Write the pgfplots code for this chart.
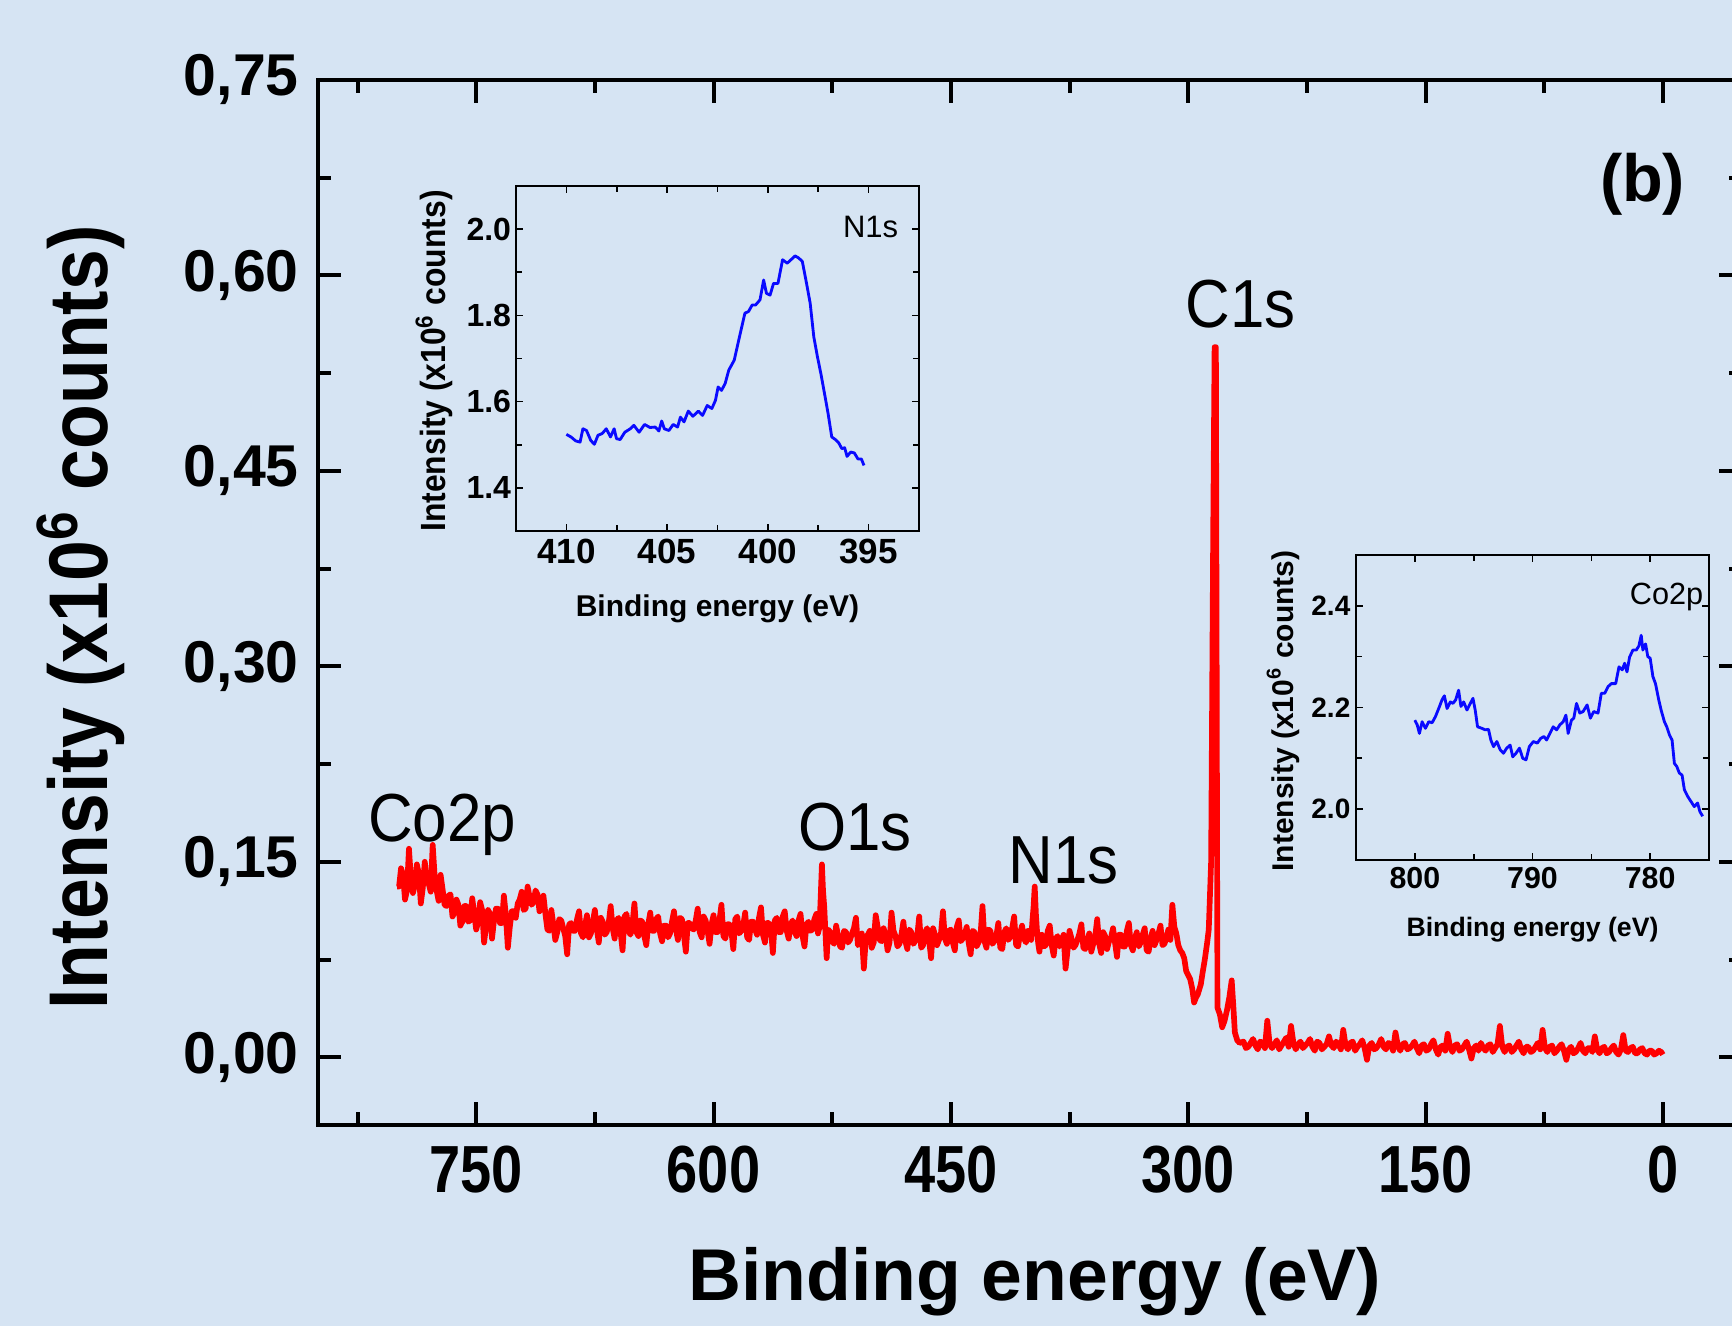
\documentclass[border=0pt]{standalone}
\usepackage{fontspec}
\setmainfont{Liberation Sans}
\newfontfamily\fxtick[FakeStretch=0.84]{Liberation Sans}
\newfontfamily\fcond[FakeStretch=0.91]{Liberation Sans}
\newfontfamily\fylab[FakeStretch=0.88]{Liberation Sans}
\usepackage{pgfplots}
\pgfplotsset{compat=1.18}

\definecolor{bgblue}{RGB}{214,228,243}
\definecolor{xpsred}{RGB}{255,0,0}
\definecolor{xpsblue}{RGB}{10,10,255}

\begin{document}
\begin{tikzpicture}
% page is 1732 x 1326 px at 0.3pt per px
\useasboundingbox (0pt,0pt) rectangle (519.6pt,397.8pt);
\fill[bgblue] (0pt,0pt) rectangle (519.6pt,397.8pt);
\begin{scope}
\clip (0pt,0pt) rectangle (519.6pt,397.8pt);

% ---------------- survey spectrum ----------------
\begin{axis}[
  at={(95.4pt,60.3pt)}, anchor=south west,
  scale only axis, width=427.2pt, height=313.5pt,
  x dir=reverse,
  xmin=-50, xmax=850, ymin=-0.052, ymax=0.75,
  xtick={0,150,300,450,600,750},
  minor xtick={75,225,375,525,675,825},
  ytick={0,0.15,0.3,0.45,0.6,0.75},
  minor ytick={0.075,0.225,0.375,0.525,0.675},
  tick align=inside,
  major tick length=6.9pt, minor tick length=3.9pt,
  tick style={black, line width=1.2pt},
  axis line style={line width=1.3pt},
  /pgf/number format/assume math mode=true,
  xticklabel style={font=\fxtick\fontsize{20}{22}\selectfont\bfseries,
    inner sep=0pt, anchor=north, yshift=-6pt},
  yticklabel style={font=\fontsize{17.7}{19}\selectfont\bfseries,
    inner sep=0pt, anchor=east, xshift=-5.6pt,
    /pgf/number format/.cd, fixed, fixed zerofill, precision=2, use comma},
  xlabel={Binding energy (eV)},
  xlabel style={at={(axis description cs:0.5035,-0.1675)}, anchor=base,
    inner sep=0pt, font=\fontsize{22}{24}\selectfont\bfseries},
  ylabel={Intensity (x10\textsuperscript{6} counts)},
  ylabel style={at={(axis description cs:-0.1475,0.4856)}, anchor=base,
    inner sep=0pt, font=\fylab\fontsize{25}{27}\selectfont\bfseries},
]
\addplot[xpsred, line width=1.7pt, line join=round] coordinates {
(800,0.131) (798.75,0.131) (797.5,0.145) (796.25,0.140) (795,0.121) (793.75,0.128)
(792.5,0.160) (791.25,0.137) (790,0.126) (788.75,0.132) (787.5,0.148) (786.25,0.141)
(785,0.118) (783.75,0.130) (782.5,0.150) (781.25,0.136) (780,0.133) (778.75,0.127)
(777.5,0.163) (776.25,0.139) (775,0.128) (773.75,0.120) (772.5,0.140) (771.25,0.129)
(770,0.117) (768.75,0.116) (767.5,0.124) (766.25,0.125) (765,0.108) (763.75,0.111)
(762.5,0.121) (761.25,0.117) (760,0.101) (758.75,0.104) (757.5,0.116) (756.25,0.116)
(755,0.104) (753.75,0.105) (752.5,0.122) (751.25,0.110) (750,0.098) (748.75,0.104)
(747.5,0.119) (746.25,0.113) (745,0.088) (743.75,0.101) (742.5,0.113) (741.25,0.110)
(740,0.091) (738.75,0.105) (737.5,0.114) (736.25,0.114) (735,0.103) (733.75,0.103)
(732.5,0.124) (731.25,0.109) (730,0.084) (728.75,0.100) (727.5,0.112) (726.25,0.112)
(725,0.107) (723.75,0.118) (722.5,0.121) (721.25,0.127) (720,0.113) (718.75,0.114)
(717.5,0.131) (716.25,0.123) (715,0.117) (713.75,0.119) (712.5,0.128) (711.25,0.125)
(710,0.112) (708.75,0.116) (707.5,0.124) (706.25,0.110) (705,0.098) (703.75,0.097)
(702.5,0.113) (701.25,0.102) (700,0.090) (698.75,0.096) (697.5,0.106) (696.25,0.105)
(695,0.099) (693.75,0.093) (692.5,0.079) (691.25,0.102) (690,0.103) (688.75,0.097)
(687.5,0.097) (686.25,0.106) (685,0.112) (683.75,0.095) (682.5,0.092) (681.25,0.101)
(680,0.109) (678.75,0.092) (677.5,0.095) (676.25,0.104) (675,0.113) (673.75,0.098)
(672.5,0.088) (671.25,0.107) (670,0.104) (668.75,0.094) (667.5,0.096) (666.25,0.103)
(665,0.116) (663.75,0.099) (662.5,0.091) (661.25,0.105) (660,0.107) (658.75,0.096)
(657.5,0.082) (656.25,0.108) (655,0.110) (653.75,0.097) (652.5,0.094) (651.25,0.102)
(650,0.118) (648.75,0.096) (647.5,0.093) (646.25,0.105) (645,0.104) (643.75,0.093)
(642.5,0.086) (641.25,0.102) (640,0.111) (638.75,0.097) (637.5,0.097) (636.25,0.106)
(635,0.108) (633.75,0.095) (632.5,0.089) (631.25,0.101) (630,0.101) (628.75,0.092)
(627.5,0.095) (626.25,0.104) (625,0.112) (623.75,0.098) (622.5,0.090) (621.25,0.107)
(620,0.106) (618.75,0.094) (617.5,0.081) (616.25,0.103) (615,0.103) (613.75,0.099)
(612.5,0.098) (611.25,0.105) (610,0.114) (608.75,0.096) (607.5,0.092) (606.25,0.108)
(605,0.105) (603.75,0.097) (602.5,0.087) (601.25,0.102) (600,0.109) (598.75,0.096)
(597.5,0.096) (596.25,0.105) (595,0.117) (593.75,0.093) (592.5,0.091) (591.25,0.102)
(590,0.102) (588.75,0.097) (587.5,0.083) (586.25,0.106) (585,0.108) (583.75,0.095)
(582.5,0.097) (581.25,0.101) (580,0.111) (578.75,0.092) (577.5,0.090) (576.25,0.104)
(575,0.104) (573.75,0.098) (572.5,0.094) (571.25,0.107) (570,0.115) (568.75,0.094)
(567.5,0.088) (566.25,0.103) (565,0.103) (563.75,0.099) (562.5,0.080) (561.25,0.105)
(560,0.107) (558.75,0.096) (557.5,0.096) (556.25,0.108) (555,0.112) (553.75,0.097)
(552.5,0.091) (551.25,0.102) (550,0.105) (548.75,0.096) (547.5,0.093) (546.25,0.105)
(545,0.110) (543.75,0.093) (542.5,0.085) (541.25,0.102) (540,0.104) (538.75,0.097)
(537.5,0.098) (536.25,0.106) (535,0.110) (534,0.095) (533,0.100) (532.2,0.125)
(531.5,0.148) (530.8,0.128) (530,0.115) (529.2,0.094) (528.5,0.076) (527.5,0.098)
(526.25,0.096) (525,0.089) (523.75,0.087) (522.5,0.101) (521.25,0.093) (520,0.085)
(518.75,0.084) (517.5,0.097) (516.25,0.096) (515,0.088) (513.75,0.090) (512.5,0.095)
(511.25,0.099) (510,0.107) (508.75,0.086) (507.5,0.088) (506.25,0.095) (505,0.068)
(503.75,0.091) (502.5,0.094) (501.25,0.097) (500,0.084) (498.75,0.088) (497.5,0.109)
(496.25,0.100) (495,0.090) (493.75,0.089) (492.5,0.099) (491.25,0.094) (490,0.082)
(488.75,0.088) (487.5,0.111) (486.25,0.097) (485,0.093) (483.75,0.085) (482.5,0.087)
(481.25,0.094) (480,0.104) (478.75,0.089) (477.5,0.083) (476.25,0.098) (475,0.096)
(473.75,0.087) (472.5,0.089) (471.25,0.093) (470,0.108) (468.75,0.084) (467.5,0.086)
(466.25,0.096) (465,0.099) (463.75,0.090) (462.5,0.076) (461.25,0.099) (460,0.094)
(458.75,0.086) (457.5,0.090) (456.25,0.095) (455,0.112) (453.75,0.091) (452.5,0.087)
(451.25,0.097) (450,0.098) (448.75,0.088) (447.5,0.082) (446.25,0.100) (445,0.105)
(443.75,0.089) (442.5,0.091) (441.25,0.094) (440,0.100) (438.75,0.088) (437.5,0.079)
(436.25,0.097) (435,0.096) (433.75,0.085) (432.5,0.088) (431.25,0.094) (430,0.116)
(428.75,0.089) (427.5,0.084) (426.25,0.098) (425,0.097) (423.75,0.087) (422.5,0.089)
(421.25,0.093) (420,0.103) (418.75,0.084) (417.5,0.083) (416.25,0.096) (415,0.099)
(413.75,0.090) (412.5,0.092) (411.25,0.099) (410,0.108) (408.75,0.086) (407.5,0.085)
(406.25,0.095) (405,0.101) (403.75,0.091) (402.5,0.088) (401.25,0.097) (400,0.097)
(399.25,0.090) (398.5,0.104) (397.75,0.115) (397,0.131) (396.25,0.110) (395.5,0.096)
(394.75,0.087) (394,0.081) (393.25,0.092) (392.5,0.094) (391.25,0.085) (390,0.086)
(388.75,0.097) (387.5,0.101) (386.25,0.086) (385,0.078) (383.75,0.091) (382.5,0.093)
(381.25,0.085) (380,0.088) (378.75,0.094) (377.5,0.068) (376.25,0.082) (375,0.097)
(373.75,0.091) (372.5,0.084) (371.25,0.086) (370,0.090) (368.75,0.095) (367.5,0.102)
(366.25,0.084) (365,0.083) (363.75,0.090) (362.5,0.095) (361.25,0.081) (360,0.087)
(358.75,0.093) (357.5,0.106) (356.25,0.087) (355,0.080) (353.75,0.096) (352.5,0.093)
(351.25,0.083) (350,0.089) (348.75,0.092) (347.5,0.099) (346.25,0.088) (345,0.077)
(343.75,0.094) (342.5,0.094) (341.25,0.085) (340,0.085) (338.75,0.097) (337.5,0.103)
(336.25,0.086) (335,0.082) (333.75,0.091) (332.5,0.096) (331.25,0.085) (330,0.088)
(328.75,0.094) (327.5,0.099) (326.25,0.082) (325,0.081) (323.75,0.091) (322.5,0.097)
(321.25,0.086) (320,0.090) (318.75,0.095) (317.5,0.101) (316.25,0.086) (315,0.087)
(313.75,0.092) (312.5,0.098) (311.25,0.090) (310,0.117) (308.75,0.100) (307.5,0.095)
(306.25,0.086) (305,0.082) (303.75,0.080) (302.5,0.076) (301.25,0.066) (300,0.063)
(298.75,0.060) (297.5,0.053) (296.25,0.042) (295,0.046) (294,0.048) (293,0.052)
(292,0.056) (291,0.064) (289.5,0.075) (288,0.088) (287,0.098) (285.5,0.150)
(284.2,0.400) (283.3,0.545) (282.5,0.545) (282,0.300) (281.5,0.038) (280,0.033)
(278.5,0.023) (277,0.028) (275.5,0.036) (274,0.046) (272.5,0.059) (271.5,0.040)
(270.5,0.019) (269,0.013) (267.5,0.011)
(265,0.012) (263.5,0.007) (262,0.008) (260.5,0.011) (259,0.014) (257.5,0.009)
(256,0.006) (254.5,0.012) (253,0.011) (251.5,0.007) (250,0.028) (248.5,0.010)
(247,0.007) (245.5,0.010) (244,0.013) (242.5,0.006) (241,0.009) (239.5,0.012)
(238,0.015) (236.5,0.008) (235,0.024) (233.5,0.011) (232,0.006) (230.5,0.010)
(229,0.012) (227.5,0.007) (226,0.009) (224.5,0.011) (223,0.014) (221.5,0.008)
(220,0.005) (218.5,0.012) (217,0.011) (215.5,0.006) (214,0.008) (212.5,0.010)
(211,0.016) (209.5,0.009) (208,0.007) (206.5,0.012) (205,0.010) (203.5,0.006)
(202,0.021) (200.5,0.009) (199,0.006) (197.5,0.011) (196,0.012) (194.5,0.005)
(193,0.008) (191.5,0.010) (190,0.013) (188.5,0.007) (187,-0.002) (185.5,0.009)
(184,0.011) (182.5,0.006) (181,0.007) (179.5,0.010) (178,0.014) (176.5,0.008)
(175,0.006) (173.5,0.011) (172,0.010) (170.5,0.005) (169,0.019) (167.5,0.009)
(166,0.005) (164.5,0.010) (163,0.011) (161.5,0.006) (160,0.007) (158.5,0.009)
(157,0.012) (155.5,0.007) (154,0.003) (152.5,0.009) (151,0.010) (149.5,0.005)
(148,0.006) (146.5,0.010) (145,0.013) (143.5,0.006) (142,0.002) (140.5,0.008)
(139,0.009) (137.5,0.005) (136,0.018) (134.5,0.008) (133,0.004) (131.5,0.009)
(130,0.010) (128.5,0.005) (127,0.006) (125.5,0.009) (124,0.012) (122.5,0.006)
(121,-0.001) (119.5,0.007) (118,0.009) (116.5,0.005) (115,0.011) (113.5,0.007)
(112,0.005) (110.5,0.009) (109,0.010) (107.5,0.004) (106,0.007) (104.5,0.010)
(103,0.024) (101.5,0.008) (100,0.004) (98.5,0.008) (97,0.009) (95.5,0.004)
(94,0.006) (92.5,0.009) (91,0.012) (89.5,0.006) (88,0.003) (86.5,0.008)
(85,0.008) (83.5,0.004) (82,0.005) (80.5,0.008) (79,0.011) (77.5,0.006)
(76,0.021) (74.5,0.007) (73,0.004) (71.5,0.008) (70,0.009) (68.5,0.003)
(67,0.005) (65.5,0.008) (64,0.010) (62.5,0.005) (61,-0.002) (59.5,0.006)
(58,0.008) (56.5,0.003) (55,0.004) (53.5,0.007) (52,0.011) (50.5,0.005)
(49,0.003) (47.5,0.007) (46,0.007) (44.5,0.004) (43,0.016) (41.5,0.006)
(40,0.003) (38.5,0.007) (37,0.008) (35.5,0.003) (34,0.004) (32.5,0.007)
(31,0.009) (29.5,0.004) (28,0.002) (26.5,0.006) (25,0.017) (23.5,0.005)
(22,0.004) (20.5,0.007) (19,0.008) (17.5,0.003) (16,0.003) (14.5,0.006)
(13,0.007) (11.5,0.003) (10,0.002) (8.5,0.005) (7,0.005) (5.5,0.002)
(4,0.003) (2.5,0.005) (1,0.004) (0,0.002)
};
\node[anchor=base, inner sep=0pt, font=\fcond\fontsize{20.4}{22}\selectfont] at (axis cs:771.6,0.1656) {Co2p};
\node[anchor=base, inner sep=0pt, font=\fcond\fontsize{20.4}{22}\selectfont] at (axis cs:510.5,0.159) {O1s};
\node[anchor=base, inner sep=0pt, font=\fcond\fontsize{20.4}{22}\selectfont] at (axis cs:378.8,0.1334) {N1s};
\node[anchor=base, inner sep=0pt, font=\fcond\fontsize{20.4}{22}\selectfont] at (axis cs:266.8,0.5597) {C1s};
\node[anchor=base, inner sep=0pt, font=\fontsize{20}{22}\selectfont\bfseries] at (axis cs:12.8,0.657) {(b)};
\end{axis}

% ---------------- N1s inset ----------------
\begin{axis}[
  at={(154.8pt,238.5pt)}, anchor=south west,
  scale only axis, width=120.9pt, height=103.5pt,
  x dir=reverse,
  xmin=392.5, xmax=412.5, ymin=1.3, ymax=2.1,
  xtick={395,400,405,410}, minor xtick={397.5,402.5,407.5},
  ytick={1.4,1.6,1.8,2.0}, minor ytick={1.5,1.7,1.9},
  tick align=inside,
  major tick length=2.1pt, minor tick length=1.8pt,
  tick style={black, line width=0.5pt},
  axis line style={line width=0.6pt},
  /pgf/number format/assume math mode=true,
  xticklabel style={font=\fontsize{10.5}{11}\selectfont\bfseries,
    inner sep=0pt, anchor=north, yshift=-2.1pt},
  yticklabel style={font=\fontsize{9.6}{10}\selectfont\bfseries,
    inner sep=0pt, anchor=east, xshift=-1.3pt,
    /pgf/number format/.cd, fixed, fixed zerofill, precision=1},
  xlabel={Binding energy (eV)},
  xlabel style={at={(axis description cs:0.5,-0.248)}, anchor=base,
    inner sep=0pt, font=\fontsize{9}{10}\selectfont\bfseries},
  ylabel={Intensity (x10\textsuperscript{6} counts)},
  ylabel style={at={(axis description cs:-0.1737,0.493)}, anchor=base,
    inner sep=0pt, font=\fcond\fontsize{10.5}{11}\selectfont\bfseries},
]
\addplot[xpsblue, line width=0.85pt, line join=round] coordinates {
(410.00,1.524) (409.77,1.518) (409.54,1.509) (409.32,1.506) (409.18,1.537)
(409.00,1.533) (408.79,1.510) (408.61,1.501) (408.43,1.522) (408.22,1.526)
(408.02,1.537) (407.81,1.518) (407.63,1.537) (407.51,1.514) (407.33,1.512)
(407.10,1.529) (406.83,1.537) (406.65,1.545) (406.39,1.529) (406.12,1.547)
(405.85,1.540) (405.59,1.541) (405.41,1.532) (405.27,1.555) (405.14,1.537)
(404.91,1.533) (404.70,1.547) (404.48,1.541) (404.34,1.564) (404.16,1.553)
(403.95,1.578) (403.72,1.566) (403.45,1.578) (403.24,1.568) (403.01,1.591)
(402.78,1.584) (402.60,1.603) (402.47,1.634) (402.30,1.626) (402.12,1.642)
(401.94,1.673) (401.67,1.696) (401.41,1.750) (401.14,1.805) (400.96,1.809)
(400.78,1.824) (400.61,1.824) (400.39,1.836) (400.21,1.882) (400.07,1.851)
(399.89,1.847) (399.72,1.874) (399.50,1.874) (399.27,1.929) (399.04,1.921)
(398.83,1.930) (398.65,1.938) (398.47,1.933) (398.29,1.925) (398.08,1.874)
(397.90,1.828) (397.72,1.750) (397.54,1.704) (397.37,1.665) (397.19,1.619)
(397.01,1.572) (396.83,1.518) (396.65,1.512) (396.48,1.504) (396.33,1.491)
(396.19,1.493) (396.07,1.473) (395.89,1.483) (395.71,1.481) (395.53,1.467)
(395.36,1.467) (395.23,1.452)
};
\node[anchor=base, inner sep=0pt, font=\fontsize{9.3}{10}\selectfont] at (axis cs:394.9,1.981) {N1s};
\end{axis}

% ---------------- Co2p inset ----------------
\begin{axis}[
  at={(406.8pt,139.8pt)}, anchor=south west,
  scale only axis, width=105.9pt, height=91.5pt,
  x dir=reverse,
  xmin=775, xmax=805, ymin=1.9, ymax=2.5,
  xtick={780,790,800}, minor xtick={785,795},
  ytick={2.0,2.2,2.4}, minor ytick={2.1,2.3},
  tick align=inside,
  major tick length=2.1pt, minor tick length=1.8pt,
  tick style={black, line width=0.5pt},
  axis line style={line width=0.6pt},
  /pgf/number format/assume math mode=true,
  xticklabel style={font=\fontsize{9.1}{10}\selectfont\bfseries,
    inner sep=0pt, anchor=north, yshift=-2.1pt},
  yticklabel style={font=\fontsize{8.4}{9}\selectfont\bfseries,
    inner sep=0pt, anchor=east, xshift=-1.5pt,
    /pgf/number format/.cd, fixed, fixed zerofill, precision=1},
  xlabel={Binding energy (eV)},
  xlabel style={at={(axis description cs:0.5,-0.2515)}, anchor=base,
    inner sep=0pt, font=\fontsize{8}{9}\selectfont\bfseries},
  ylabel={Intensity (x10\textsuperscript{6} counts)},
  ylabel style={at={(axis description cs:-0.1776,0.4885)}, anchor=base,
    inner sep=0pt, font=\fontsize{9}{10}\selectfont\bfseries},
]
\addplot[xpsblue, line width=0.85pt, line join=round] coordinates {
(800.00,2.175) (799.80,2.166) (799.61,2.149) (799.38,2.172) (799.10,2.159)
(798.82,2.172) (798.53,2.170) (798.25,2.182) (797.97,2.198) (797.69,2.215)
(797.49,2.223) (797.26,2.198) (796.98,2.211) (796.76,2.208) (796.53,2.215)
(796.28,2.234) (796.08,2.202) (795.85,2.211) (795.57,2.195) (795.35,2.205)
(795.06,2.218) (794.87,2.195) (794.67,2.162) (794.30,2.159) (794.02,2.156)
(793.74,2.157) (793.54,2.136) (793.31,2.123) (793.03,2.133) (792.75,2.117)
(792.47,2.110) (792.19,2.120) (791.90,2.126) (791.68,2.103) (791.40,2.110)
(791.11,2.120) (790.83,2.100) (790.55,2.097) (790.27,2.123) (789.93,2.133)
(789.59,2.130) (789.31,2.139) (789.03,2.143) (788.80,2.136) (788.52,2.149)
(788.24,2.162) (787.95,2.156) (787.67,2.166) (787.39,2.172) (787.16,2.185)
(786.97,2.149) (786.69,2.175) (786.49,2.179) (786.26,2.208) (785.98,2.189)
(785.70,2.192) (785.36,2.205) (785.08,2.179) (784.80,2.192) (784.43,2.189)
(784.15,2.228) (783.86,2.228) (783.58,2.241) (783.30,2.247) (782.93,2.247)
(782.65,2.280) (782.37,2.274) (782.17,2.287) (781.97,2.270) (781.75,2.299)
(781.47,2.313) (781.18,2.313) (780.96,2.321) (780.76,2.342) (780.62,2.313)
(780.39,2.325) (780.20,2.300) (780.00,2.297) (779.77,2.261) (779.55,2.247)
(779.27,2.215) (779.07,2.195) (778.79,2.172) (778.59,2.162) (778.36,2.146)
(778.14,2.136) (777.94,2.090) (777.74,2.084) (777.52,2.071) (777.29,2.067)
(777.09,2.038) (776.81,2.025) (776.53,2.015) (776.25,2.005) (775.97,2.012)
(775.77,1.995) (775.54,1.986)
};
\node[anchor=base, inner sep=0pt, font=\fontsize{9.2}{10}\selectfont] at (axis cs:778.6,2.402) {Co2p};
\end{axis}
\end{scope}
\end{tikzpicture}
\end{document}
